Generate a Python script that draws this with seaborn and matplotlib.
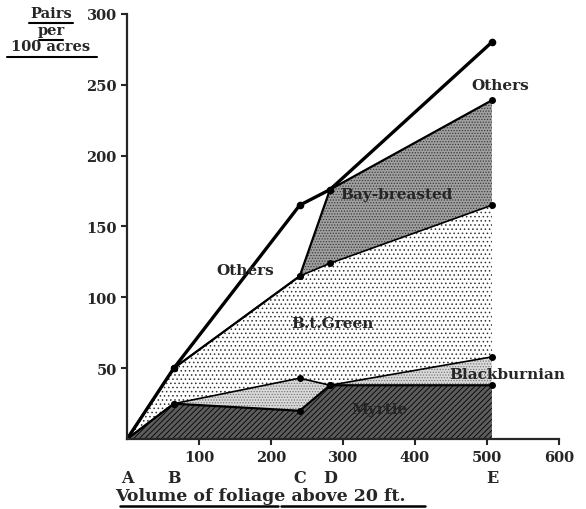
"""Bird pairs per 100 acres vs volume of foliage, stacked by species."""

import matplotlib

matplotlib.use("Agg")

import matplotlib.pyplot as plt
import pandas as pd
import seaborn as sns
from matplotlib.lines import Line2D

# stations A..E along the foliage-volume axis
STATIONS = ["A", "B", "C", "D", "E"]
FOLIAGE = [0, 65, 240, 282, 507]

# cumulative (stacked) tops of each band, pairs per 100 acres
MYRTLE_TOP = [0, 25, 20, 38, 38]
BLACKBURNIAN_TOP = [0, 25, 43, 38, 58]
BT_GREEN_TOP = [0, 50, 115, 124, 165]
BAY_BREASTED_TOP = [0, 50, 115, 176, 239]
TOTAL_TOP = [0, 50, 165, 176, 280]

X_TICKS = [100, 200, 300, 400, 500, 600]
Y_TICKS = [50, 100, 150, 200, 250, 300]

sns.set_style("ticks")
plt.rcParams["font.family"] = ["DejaVu Serif"]
plt.rcParams["hatch.color"] = "black"
plt.rcParams["hatch.linewidth"] = 0.6

df = pd.DataFrame(
    {
        "foliage": FOLIAGE,
        "myrtle": MYRTLE_TOP,
        "blackburnian": BLACKBURNIAN_TOP,
        "btgreen": BT_GREEN_TOP,
        "baybreasted": BAY_BREASTED_TOP,
        "total": TOTAL_TOP,
    }
)

fig = plt.figure(figsize=(5.86, 5.10), dpi=100)
ax = fig.add_axes([0.2167, 0.137, 0.737, 0.834])

zero = [0] * len(FOLIAGE)
ax.fill_between(df["foliage"], zero, df["myrtle"], facecolor="#5c5c5c",
                hatch="//////", edgecolor="black", linewidth=0)
ax.fill_between(df["foliage"], df["myrtle"], df["blackburnian"], facecolor="#dadada",
                hatch="......", edgecolor="#777777", linewidth=0)
ax.fill_between(df["foliage"], df["blackburnian"], df["btgreen"], facecolor="white",
                hatch="....", edgecolor="#333333", linewidth=0)
ax.fill_between(df["foliage"], df["btgreen"], df["baybreasted"], facecolor="#a0a0a0",
                hatch="......", edgecolor="#3a3a3a", linewidth=0)

# band boundaries: thin lines for inner bands, heavy line for the total
for col, lw in [("myrtle", 1.6), ("blackburnian", 1.2), ("btgreen", 1.2),
                ("baybreasted", 1.6)]:
    sns.lineplot(data=df, x="foliage", y=col, color="black", linewidth=lw,
                 marker="o", markersize=5, markeredgewidth=0, ax=ax)
sns.lineplot(data=df, x="foliage", y="total", color="black", linewidth=2.4,
             marker="o", markersize=5.5, markeredgewidth=0, ax=ax)

ax.set_xlim(0, 600)
ax.set_ylim(0, 300)
ax.set_xticks(X_TICKS)
ax.set_yticks(Y_TICKS)
ax.tick_params(axis="both", labelsize=10.5, width=1.5, length=4)
for lab in ax.get_xticklabels() + ax.get_yticklabels():
    lab.set_fontweight("bold")
ax.set_xlabel("")
ax.set_ylabel("")
sns.despine(ax=ax)
for side in ("left", "bottom"):
    ax.spines[side].set_linewidth(1.6)

# station letters under the tick labels
for x, name in zip(FOLIAGE, STATIONS):
    ax.text(x, -27, name, ha="center", va="center", fontsize=11.5, fontweight="bold")

# band labels
label_kw = dict(fontsize=11, fontweight="bold", ha="center", va="center")
ax.text(351, 21, "Myrtle", **label_kw)
ax.text(529, 46, "Blackburnian", **label_kw)
ax.text(285, 82, "B.t.Green", **label_kw)
ax.text(375, 173, "Bay-breasted", **label_kw)
ax.text(164, 119, "Others", **label_kw)
ax.text(518, 250, "Others", **label_kw)

# axis titles, hand-lettered with underlines
ytitle_kw = dict(fontsize=10.5, fontweight="bold", ha="center", va="center")
fig.text(0.087, 0.972, "Pairs", **ytitle_kw)
fig.text(0.087, 0.940, "per", **ytitle_kw)
fig.text(0.087, 0.908, "100 acres", **ytitle_kw)
for x0, x1, y in [(0.050, 0.125, 0.952), (0.066, 0.108, 0.920), (0.012, 0.165, 0.886)]:
    fig.add_artist(Line2D([x0, x1], [y, y], color="black", linewidth=1.5))
fig.text(0.197, 0.027, "Volume of foliage above 20 ft.", fontsize=12.5, fontweight="bold",
         ha="left", va="center")
for x0, x1 in [(0.205, 0.475), (0.48, 0.725)]:
    fig.add_artist(Line2D([x0, x1], [0.006, 0.006], color="black", linewidth=1.8))

fig.savefig("out.png", dpi=100)
plt.close(fig)
